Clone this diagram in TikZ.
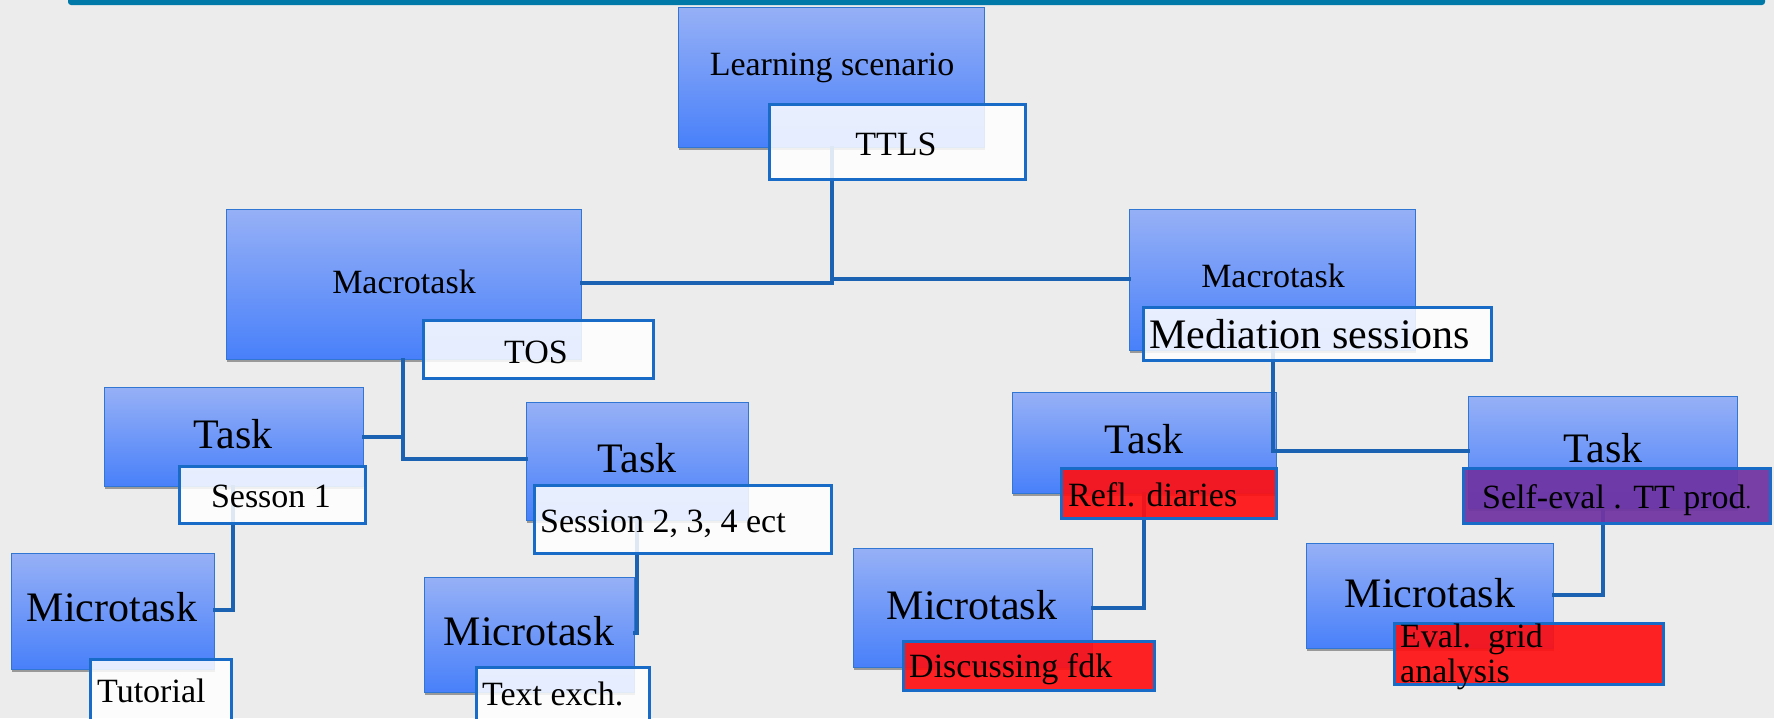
\documentclass[tikz,border=0pt]{standalone}
\usepackage{fontspec}
\setmainfont{Liberation Serif}
\usetikzlibrary{shadows}
\definecolor{bgc}{RGB}{236,236,236}
\definecolor{barc}{RGB}{0,120,168}
\definecolor{boxtop}{RGB}{150,176,246}
\definecolor{boxbot}{RGB}{72,128,250}
\definecolor{boxedge}{RGB}{48,118,210}
\definecolor{labedge}{RGB}{24,108,200}
\definecolor{connc}{RGB}{28,98,178}
\definecolor{redc}{RGB}{255,16,18}
\definecolor{purc}{RGB}{112,52,162}
\newcommand\fsA{\fontsize{34}{36}\selectfont}
\newcommand\fsB{\fontsize{42}{44}\selectfont}
\begin{document}
\begin{tikzpicture}[x=1pt,y=-1pt,
  bbox/.style={draw=boxedge, line width=1pt, top color=boxtop, bottom color=boxbot,
    anchor=north west, inner sep=0pt,
    drop shadow={shadow xshift=0.6pt, shadow yshift=-2.5pt, fill=black, opacity=0.35}},
  lab/.style={draw=labedge, line width=3pt, fill=white, fill opacity=0.86,
    anchor=north west, inner sep=0pt},
  labred/.style={lab, fill=redc, fill opacity=0.92},
  labpur/.style={lab, fill=purc, fill opacity=0.93},
  conn/.style={draw=connc, line width=4pt, line cap=rect},
  txt/.style={inner sep=0pt, text=black},
  ta/.style={txt, font=\fsA},
  tb/.style={txt, font=\fsB}]
\useasboundingbox (0,0) rectangle (1774,718);
\clip (0,0) rectangle (1774,718);
\fill[bgc] (0,0) rectangle (1774,718);
\fill[barc, rounded corners=3pt] (68,-6) rectangle (1765,5);

% blue boxes
\node[bbox, minimum width=306pt, minimum height=140pt] (ls)   at (678,7) {};
\node[bbox, minimum width=355pt, minimum height=150pt] (mtl)  at (226,209) {};
\node[bbox, minimum width=286pt, minimum height=141pt] (mtr)  at (1129,209) {};
\node[bbox, minimum width=259pt, minimum height=99pt]  (tkl)  at (104,387) {};
\node[bbox, minimum width=222pt, minimum height=118pt] (tkm)  at (526,402) {};
\node[bbox, minimum width=264pt, minimum height=101pt] (tkmr) at (1012,392) {};
\node[bbox, minimum width=269pt, minimum height=112pt] (tkr)  at (1468,396) {};
\node[bbox, minimum width=203pt, minimum height=116pt] (mcl)  at (11,553) {};
\node[bbox, minimum width=210pt, minimum height=115pt] (mcm)  at (424,577) {};
\node[bbox, minimum width=239pt, minimum height=119pt] (mcmr) at (853,548) {};
\node[bbox, minimum width=247pt, minimum height=105pt] (mcr)  at (1306,543) {};

% connectors
\coordinate (j0) at (832,281);
\coordinate (jl) at (832,283);
\coordinate (jr) at (832,279);
\draw[conn] (ls.south -| j0) -- (j0);
\draw[conn] (jl) -- (mtl.east |- jl);
\draw[conn] (jr) -- (mtr.west |- jr);
\coordinate (j2) at (403,459);
\coordinate (j3) at (403,437);
\draw[conn] (mtl.south -| j2) -- (j2) -- (tkm.west |- j2);
\draw[conn] (j3) -- (tkl.east |- j3);
\coordinate (j4) at (233,610);
\draw[conn] (tkl.south -| j4) -- (j4) -- (mcl.east |- j4);
\coordinate (j5) at (637,633);
\draw[conn] (tkm.south -| j5) -- (j5) -- (mcm.east |- j5);
\coordinate (j6) at (1273,451);
\draw[conn] (mtr.south -| j6) -- (j6) -- (tkr.west |- j6);
\coordinate (j7) at (1144,608);
\draw[conn] (tkmr.south -| j7) -- (j7) -- (mcmr.east |- j7);
\coordinate (j8) at (1603,595);
\draw[conn] (tkr.south -| j8) -- (j8) -- (mcr.east |- j8);

% label boxes
\node[lab, minimum width=256pt, minimum height=75pt] (ttls) at (768,103) {};
\node[lab, minimum width=230pt, minimum height=58pt] (tos)  at (422,319) {};
\node[lab, minimum width=348pt, minimum height=53pt] (med)  at (1142,306) {};
\node[lab, minimum width=186pt, minimum height=57pt] (s1)   at (178,465) {};
\node[lab, minimum width=297pt, minimum height=68pt] (s234) at (533,484) {};
\node[labred, minimum width=215pt, minimum height=50pt] (refl) at (1060,467) {};
\node[labpur, minimum width=307pt, minimum height=55pt] (self) at (1462,467) {};
\node[lab, minimum width=141pt, minimum height=70pt] (tut)  at (89,658) {};
\node[lab, minimum width=173pt, minimum height=60pt] (txe)  at (475,666) {};
\node[labred, minimum width=251pt, minimum height=49pt] (disc) at (902,640) {};
\node[labred, minimum width=269pt, minimum height=61pt] (eval) at (1393,622) {};

% texts
\node[ta, anchor=base] (tls) at (832,75) {Learning scenario};
\node[ta, anchor=base] (tttls) at (896,155) {TTLS};
\node[ta, anchor=base] (tmtl) at (404,293) {Macrotask};
\node[ta, anchor=base] (ttos) at (536,363) {TOS};
\node[ta, anchor=base] (tmtr) at (1273,287) {Macrotask};
\node[tb, anchor=base west] (tmed) at (1149,348) {Mediation sessions};
\node[tb, anchor=base] (ttkl) at (233,448) {Task};
\node[ta, anchor=base] (ts1) at (271,507) {Sesson 1};
\node[tb, anchor=base] (ttkm) at (637,472) {Task};
\node[ta, anchor=base west] (ts234) at (540,532) {Session 2, 3, 4 ect};
\node[tb, anchor=base] (ttkmr) at (1144,453) {Task};
\node[ta, anchor=base west] (trefl) at (1068,506) {Refl. diaries};
\node[tb, anchor=base] (ttkr) at (1603,462) {Task};
\node[ta, anchor=base west] (tself) at (1482,508) {Self-eval . TT prod{\fontsize{22}{24}\selectfont.}};
\node[tb, anchor=base] (tmcl) at (112,621) {Microtask};
\node[ta, anchor=base west] (ttut) at (97,702) {Tutorial};
\node[tb, anchor=base] (tmcm) at (529,645) {Microtask};
\node[ta, anchor=base west] (ttxe) at (482,705) {Text exch.};
\node[tb, anchor=base] (tmcmr) at (972,619) {Microtask};
\node[ta, anchor=base west] (tdisc) at (909,677) {Discussing fdk};
\node[tb, anchor=base] (tmcr) at (1430,607) {Microtask};
\node[ta, anchor=base west] (teval1) at (1400,647) {Eval.\ \ grid};
\node[ta, anchor=base west] (teval2) at (1400,682) {analysis};
\end{tikzpicture}
\end{document}
